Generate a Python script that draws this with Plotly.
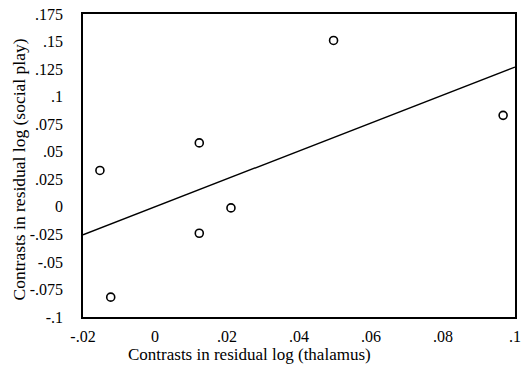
import numpy as np
import plotly.graph_objects as go

# Independent contrasts: thalamus (x) vs social play (y)
thalamus_contrasts = [-0.0153, -0.0123, 0.0123, 0.0123, 0.0211, 0.0496, 0.0967]
social_play_contrasts = [0.033, -0.082, 0.058, -0.024, -0.001, 0.151, 0.083]

x_ticks = [-0.02, 0, 0.02, 0.04, 0.06, 0.08, 0.1]
x_tick_labels = ["-.02", "0", ".02", ".04", ".06", ".08", ".1"]
y_ticks = [-0.1, -0.075, -0.05, -0.025, 0, 0.025, 0.05, 0.075, 0.1, 0.125, 0.15, 0.175]
y_tick_labels = ["-.1", "-.075", "-.05", "-.025", "0", ".025", ".05", ".075",
                 ".1", ".125", ".15", ".175"]

x_range = [-0.02, 0.1]
y_range = [-0.1, 0.175]

# Regression through the origin (standard for independent contrasts)
xa = np.array(thalamus_contrasts)
ya = np.array(social_play_contrasts)
slope = float((xa * ya).sum() / (xa * xa).sum())
line_x = x_range
line_y = [slope * v for v in line_x]

FONT = "Liberation Serif, Times New Roman, serif"

fig = go.Figure()
fig.add_trace(go.Scatter(
    x=line_x, y=line_y, mode="lines",
    line=dict(color="black", width=1.4),
    hoverinfo="skip", showlegend=False,
))
fig.add_trace(go.Scatter(
    x=thalamus_contrasts, y=social_play_contrasts, mode="markers",
    marker=dict(symbol="circle-open", size=8, color="black",
                line=dict(color="black", width=1.6)),
    showlegend=False,
))

axis_common = dict(
    showgrid=False, zeroline=False, showline=True, mirror=True,
    linecolor="black", linewidth=1.6, ticks="",
    tickfont=dict(family=FONT, size=16, color="black"),
)

fig.update_xaxes(range=x_range, tickvals=x_ticks, ticktext=x_tick_labels,
                 ticklabelstandoff=4, **axis_common)
fig.update_yaxes(range=y_range, tickvals=y_ticks, ticktext=y_tick_labels,
                 ticklabelstandoff=15, **axis_common)

fig.add_annotation(
    text="Contrasts in residual log (thalamus)",
    xref="paper", yref="paper", x=0.386, y=0, yshift=-37,
    xanchor="center", yanchor="middle", showarrow=False,
    font=dict(family=FONT, size=17, color="black"),
)
fig.add_annotation(
    text="Contrasts in residual log (social play)",
    xref="paper", yref="paper", x=0, xshift=-64, y=0.487,
    xanchor="center", yanchor="middle", textangle=-90, showarrow=False,
    font=dict(family=FONT, size=17.5, color="black"),
)

fig.update_layout(
    width=527, height=370,
    margin=dict(l=83, r=6, t=13, b=53),
    paper_bgcolor="white", plot_bgcolor="white",
)

fig.write_html("out.html")
